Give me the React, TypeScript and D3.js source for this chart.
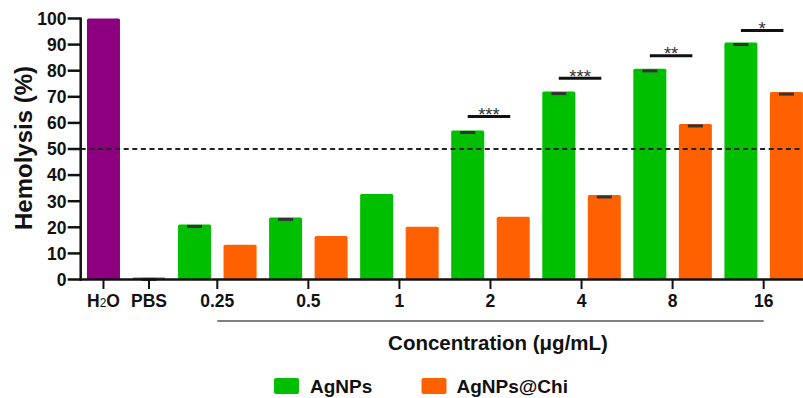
import * as d3 from "d3";

// Control bars (left of the concentration series)
const CONTROLS = ["H2O", "PBS"];
const CONTROL_VALUES = [100, 0.8];
const CONTROL_SD = [0, 0.3];

// Concentration groups
const CONCENTRATIONS = ["0.25", "0.5", "1", "2", "4", "8", "16"];
const AGNPS = [21.1, 23.8, 32.8, 57.1, 72.0, 80.7, 90.8];
const AGNPS_SD = [0.3, 0.3, 0, 0.3, 0.3, 0.3, 0.3];
const AGNPS_CHI = [13.3, 16.7, 20.2, 24.0, 32.4, 59.6, 71.8];
const AGNPS_CHI_SD = [0, 0, 0, 0, 0.3, 0.3, 0.3];

// Significance brackets
const SIG_CONC = ["2", "4", "8", "16"];
const SIG_LABELS = ["***", "***", "**", "*"];
const SIG_LEVEL = [62.5, 77.1, 85.7, 95.4];

const Y_TICKS = [0, 10, 20, 30, 40, 50, 60, 70, 80, 90, 100];
const THRESHOLD = 50;

const COLORS = { H2O: "#8C0080", PBS: "#6b6b6b", AgNPs: "#00BF00", AgNPsChi: "#FF6000" };
const FONT = "'Liberation Sans', Arial, Helvetica, sans-serif";

const W = 803;
const H = 398;

type Bar = { slot: string; value: number; sd: number; fill: string };

export default function App() {
  const slots = [
    ...CONTROLS,
    ...CONCENTRATIONS.flatMap((c) => [`${c}|g`, `${c}|o`]),
  ];

  const x = d3.scaleBand<string>()
    .domain(slots)
    .range([80.7, 809.2])
    .paddingInner(0.275)
    .paddingOuter(0.1375);

  const y = d3.scaleLinear().domain([0, 100]).range([279.5, 18.5]);

  const barW = x.bandwidth();
  const cx = (s: string) => (x(s) ?? 0) + barW / 2;
  const groupCx = (c: string) => (cx(`${c}|g`) + cx(`${c}|o`)) / 2;

  const bars: Bar[] = [
    ...CONTROLS.map((c, i) => ({
      slot: c, value: CONTROL_VALUES[i], sd: CONTROL_SD[i],
      fill: c === "H2O" ? COLORS.H2O : COLORS.PBS,
    })),
    ...CONCENTRATIONS.flatMap((c, i) => [
      { slot: `${c}|g`, value: AGNPS[i], sd: AGNPS_SD[i], fill: COLORS.AgNPs },
      { slot: `${c}|o`, value: AGNPS_CHI[i], sd: AGNPS_CHI_SD[i], fill: COLORS.AgNPsChi },
    ]),
  ];

  const axisX = 80.7;
  const baseY = y(0);

  return (
    <svg width={W} height={H} style={{ position: "absolute", left: 0, top: 0, background: "#fff" }}
      fontFamily={FONT}>

      {/* bars */}
      {bars.map((b) => (
        <rect key={b.slot}
          x={x(b.slot)} y={y(b.value)} width={barW} height={baseY - y(b.value)}
          rx={1.5} fill={b.fill} />
      ))}

      {/* error caps */}
      {bars.filter((b) => b.sd > 0).map((b) => (
        <rect key={`e${b.slot}`}
          x={cx(b.slot) - 7.5} y={y(b.value) + 0.5} width={15} height={3}
          fill="#333" />
      ))}

      {/* 50% threshold */}
      <line x1={axisX} x2={W} y1={y(THRESHOLD)} y2={y(THRESHOLD)}
        stroke="#222" strokeWidth={2} strokeDasharray="5,3.6" />

      {/* significance */}
      {SIG_CONC.map((c, i) => {
        const x0 = cx(`${c}|g`);
        const x1 = cx(`${c}|o`) - 3;
        const ly = y(SIG_LEVEL[i]);
        return (
          <g key={`s${c}`}>
            <line x1={x0} x2={x1} y1={ly} y2={ly} stroke="#111" strokeWidth={3} />
            <text x={(x0 + x1) / 2} y={ly + 4.5} textAnchor="middle" fontSize={18.5} fill="#333">
              {SIG_LABELS[i]}
            </text>
          </g>
        );
      })}

      {/* y axis */}
      <line x1={axisX} x2={axisX} y1={y(100) - 1} y2={baseY + 1.2} stroke="#111" strokeWidth={2.5} />
      {Y_TICKS.map((t) => (
        <g key={`y${t}`}>
          <line x1={axisX - 13} x2={axisX} y1={y(t)} y2={y(t)} stroke="#111" strokeWidth={2.5} />
          <text x={66.5} y={y(t) + 6.3} textAnchor="end" fontSize={17.5} fontWeight="bold" fill="#111">
            {t}
          </text>
        </g>
      ))}
      <text transform={`translate(31.5,148) rotate(-90)`} textAnchor="middle"
        fontSize={24} fontWeight="bold" fill="#111">
        Hemolysis (%)
      </text>

      {/* x axis */}
      <line x1={axisX - 1.2} x2={W} y1={baseY} y2={baseY} stroke="#111" strokeWidth={2.5} />
      {CONTROLS.map((c) => (
        <g key={`xt${c}`}>
          <line x1={cx(c)} x2={cx(c)} y1={baseY} y2={baseY + 9.5} stroke="#111" strokeWidth={2} />
          <text x={cx(c)} y={307} textAnchor="middle" fontSize={17.5} fontWeight="bold" fill="#111">
            {c === "H2O" ? (<>H<tspan fontSize={12} fontWeight="normal">2</tspan>O</>) : c}
          </text>
        </g>
      ))}
      {CONCENTRATIONS.map((c) => (
        <g key={`xt${c}`}>
          <line x1={groupCx(c)} x2={groupCx(c)} y1={baseY} y2={baseY + 9.5} stroke="#111" strokeWidth={2} />
          <text x={groupCx(c)} y={307} textAnchor="middle" fontSize={17.5} fontWeight="bold" fill="#111">
            {c}
          </text>
        </g>
      ))}

      {/* concentration bracket + title */}
      <line x1={groupCx(CONCENTRATIONS[0])} x2={groupCx(CONCENTRATIONS[CONCENTRATIONS.length - 1])}
        y1={321} y2={321} stroke="#555" strokeWidth={1.5} />
      <text x={498} y={349.5} textAnchor="middle" fontSize={20.5} fontWeight="bold" fill="#111">
        Concentration (μg/mL)
      </text>

      {/* legend */}
      <rect x={274} y={378} width={25} height={16} rx={2} fill={COLORS.AgNPs} />
      <text x={310} y={392.7} fontSize={19} fontWeight="bold" fill="#111">AgNPs</text>
      <rect x={421.5} y={378} width={25} height={16} rx={2} fill={COLORS.AgNPsChi} />
      <text x={456.5} y={392.7} fontSize={19} fontWeight="bold" fill="#111">AgNPs@Chi</text>
    </svg>
  );
}
